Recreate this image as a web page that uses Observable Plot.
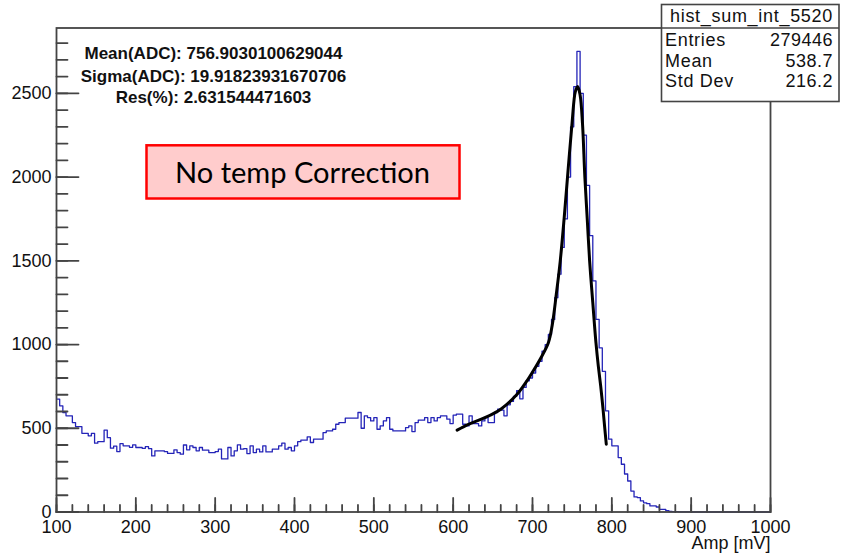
<!DOCTYPE html>
<html><head><meta charset="utf-8">
<script src="https://cdn.jsdelivr.net/npm/d3@7"></script>
<script src="https://cdn.jsdelivr.net/npm/@observablehq/plot@0.6"></script>
<style>
html,body{margin:0;padding:0;background:#fff;}
#wrap{position:relative;width:841px;height:555px;overflow:hidden;}
#wrap > svg{position:absolute;left:0;top:0;}
</style></head><body><div id="wrap"></div>
<script>
// Histogram: lower bin edges start at 100, bin width 4 mV
const binStart = 100;
const binWidth = 4;
const counts = [
  // 100 - 196
  674, 634, 594, 574, 574, 534, 510, 510, 470, 470, 455, 470, 411, 420, 420, 489, 444, 381, 393, 361, 408, 395, 395, 386, 401,
  // 200 - 296
  385, 385, 380, 390, 378, 335, 365, 365, 365, 360, 350, 350, 371, 355, 345, 400, 371, 395, 385, 365, 385, 369, 369, 355, 355,
  // 300 - 396
  361, 375, 317, 317, 385, 335, 365, 401, 375, 379, 349, 395, 355, 375, 359, 395, 359, 359, 375, 375, 395, 411, 375, 385, 365,
  // 400 - 496
  395, 420, 429, 429, 449, 415, 435, 435, 435, 474, 484, 484, 494, 524, 534, 534, 560, 560, 560, 560, 594, 500, 574, 564, 544,
  // 500 - 596
  564, 494, 514, 544, 564, 494, 484, 484, 484, 484, 504, 514, 480, 534, 548, 548, 564, 534, 564, 544, 564, 574, 574, 554, 528,
  // 600 - 696
  578, 584, 584, 524, 514, 574, 528, 528, 514, 544, 564, 534, 534, 594, 614, 608, 574, 640, 660, 690, 724, 676, 744, 783, 800,
  // 700 - 796
  830, 870, 900, 960, 1000, 1060, 1150, 1280, 1420, 1580, 1750, 2000, 2300, 2540, 2750, 2500, 2250, 1950, 1650, 1380, 1150, 980, 840, 604, 435,
  // 800 - 896
  395, 395, 325, 285, 227, 185, 125, 90, 86, 66, 55, 50, 36, 36, 30, 16, 16, 8, 3, 2, 2, 1, 1, 1, 1,
  // 900 - 996
  0, 0, 0, 0, 0, 0, 0, 0, 0, 0, 0, 0, 0, 0, 0, 0, 0, 0, 0, 0, 0, 0, 0, 0, 0
];
const histEnd = 1000;

// Fit curve samples
const fitX = [605, 620, 640, 660, 680, 693, 700, 710, 720, 725, 730, 735, 740, 745, 750, 754, 757, 760, 763, 766, 769, 772, 776, 780, 783, 786, 789, 791, 793];
const fitY = [489, 525, 563, 614, 700, 783, 835, 915, 1010, 1120, 1300, 1500, 1760, 2050, 2330, 2510, 2540, 2490, 2320, 2000, 1750, 1500, 1250, 1010, 870, 750, 610, 505, 405];

// Axes
const xDomain = [100, 1000];
const yDomain = [0, 2890];
const xMajorTicks = [100, 200, 300, 400, 500, 600, 700, 800, 900, 1000];
const xMinorTicks = d3.range(100, 1001, 20);
const yMajorTicks = [0, 500, 1000, 1500, 2000, 2500];
const yMinorTicks = d3.range(0, 2890, 100);
const xLabel = "Amp [mV]";

// Texts
const statsTitle = "hist_sum_int_5520";
const statsLabels = ["Entries", "Mean", "Std Dev"];
const statsValues = ["279446", "538.7", "216.2"];
const fitInfo = ["Mean(ADC): 756.9030100629044", "Sigma(ADC): 19.91823931670706", "Res(%): 2.631544471603"];
const noteText = "No temp Correction";

const hist = counts.map((c, i) => ({x: binStart + i * binWidth, y: c}));
hist.push({x: histEnd, y: 0});
const fit = fitX.map((x, i) => ({x, y: fitY[i]}));

// layout
const W = 841, H = 555, mL = 56, mR = 71, mT = 27.5, mB = 43.5;
const pxX = (W - mL - mR) / (xDomain[1] - xDomain[0]);
const pxY = (H - mT - mB) / (yDomain[1] - yDomain[0]);
const axisColor = "#444";

// inward ROOT-style tick segments (pixel lengths converted to data units)
const tickSegs = [];
yMinorTicks.forEach(v => { tickSegs.push({x: xDomain[0], y: v, id: "ym" + v}, {x: xDomain[0] + 11 / pxX, y: v, id: "ym" + v}); });
yMajorTicks.forEach(v => { tickSegs.push({x: xDomain[0], y: v, id: "yM" + v}, {x: xDomain[0] + 22 / pxX, y: v, id: "yM" + v}); });
xMinorTicks.forEach(v => { tickSegs.push({x: v, y: yDomain[0], id: "xm" + v}, {x: v, y: yDomain[0] + 7 / pxY, id: "xm" + v}); });
xMajorTicks.forEach(v => { tickSegs.push({x: v, y: yDomain[0], id: "xM" + v}, {x: v, y: yDomain[0] + 14 / pxY, id: "xM" + v}); });

const chart = Plot.plot({
  width: W, height: H,
  marginLeft: mL, marginRight: mR, marginTop: mT, marginBottom: mB,
  x: {domain: xDomain, label: null},
  y: {domain: yDomain, label: null},
  style: {fontFamily: "'Liberation Sans', Arial, sans-serif", fontSize: "18px", color: "#111"},
  marks: [
    Plot.line(hist, {x: "x", y: "y", curve: "step-after", stroke: "#2424b8", strokeWidth: 1.3}),
    Plot.line(fit, {x: "x", y: "y", curve: "catmull-rom", stroke: "#000", strokeWidth: 3, strokeLinecap: "round"}),
    Plot.line(tickSegs, {x: "x", y: "y", z: "id", stroke: axisColor, strokeWidth: 1.8}),
    Plot.frame({stroke: axisColor, strokeWidth: 1.8}),
    Plot.axisY(yMajorTicks, {tickSize: 0, tickPadding: 5, tickFormat: d => String(d), label: null}),
    Plot.axisX(xMajorTicks, {tickSize: 0, tickPadding: 8, tickFormat: d => String(d), label: null}),
    Plot.text([xLabel], {text: d => d, frameAnchor: "bottom-right", textAnchor: "end", lineAnchor: "middle", dy: 31.5, fontSize: 18})
  ]
});
const wrap = document.getElementById("wrap");
wrap.appendChild(chart);

// Overlays (ROOT stats box, fit text, slide annotation)
const ov = d3.select(wrap).append("svg")
  .attr("width", W).attr("height", H)
  .style("font-family", "'Liberation Sans', Arial, sans-serif");

const fitG = ov.append("g").attr("font-weight", "bold").attr("font-size", 17).attr("text-anchor", "middle").attr("fill", "#111");
[59, 81.5, 103.3].forEach((b, i) => fitG.append("text").attr("x", 213.5).attr("y", b).text(fitInfo[i]));

ov.append("rect").attr("x", 146.5).attr("y", 145.3).attr("width", 313).attr("height", 53.2)
  .attr("fill", "#ffcccc").attr("stroke", "#ff0000").attr("stroke-width", 2.5);
ov.append("text").attr("x", 302.5).attr("y", 183.3).attr("text-anchor", "middle")
  .attr("font-family", "Lato, 'Open Sans', sans-serif").attr("font-size", 29).attr("fill", "#000")
  .attr("textLength", 255).attr("lengthAdjust", "spacingAndGlyphs")
  .text(noteText);

const sb = ov.append("g").attr("font-size", 18).attr("fill", "#111");
sb.append("rect").attr("x", 661.5).attr("y", 4.5).attr("width", 177.5).attr("height", 97)
  .attr("fill", "#fff").attr("stroke", axisColor).attr("stroke-width", 1.6);
sb.append("line").attr("x1", 661.5).attr("x2", 839).attr("y1", 28).attr("y2", 28)
  .attr("stroke", axisColor).attr("stroke-width", 1.6);
sb.append("text").attr("x", 751.5).attr("y", 21.5).attr("text-anchor", "middle").attr("letter-spacing", 0.7).text(statsTitle);
[45.7, 66.5, 86.7].forEach((b, i) => {
  sb.append("text").attr("x", 665).attr("y", b).attr("letter-spacing", 0.7).text(statsLabels[i]);
  sb.append("text").attr("x", 833).attr("y", b).attr("text-anchor", "end").attr("letter-spacing", 0.5).text(statsValues[i]);
});
</script></body></html>
